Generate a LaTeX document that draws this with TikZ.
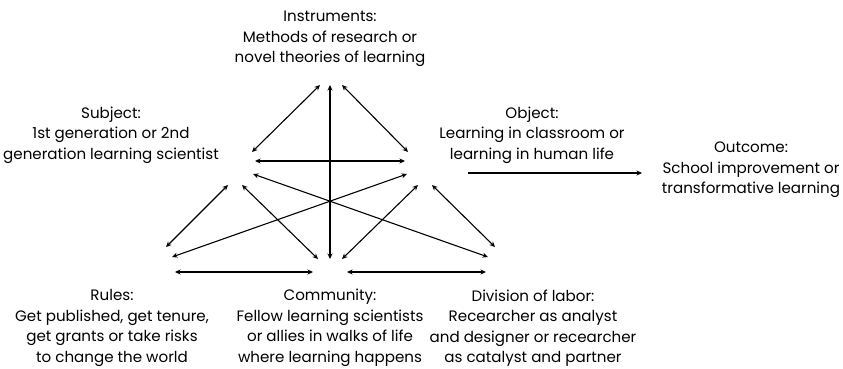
\documentclass[tikz,border=0pt]{standalone}
\usepackage{fontspec}
\setmainfont{Poppins}
\usetikzlibrary{arrows.meta}
\begin{document}
\begin{tikzpicture}[x=1pt,y=-1pt,
  lbl/.style={align=center, font=\fontsize{15.1}{20.5}\selectfont, inner sep=0pt},
  tip/.tip={Stealth[length=5.5pt,width=5pt]},
  link/.style={tip-tip, line width=1.1pt},
  heavy/.style={tip-tip, line width=1.8pt},
  flow/.style={-tip, line width=1.1pt}]
\useasboundingbox (0,0) rectangle (843,368);
\clip (0,0) rectangle (843,368);

% labels
\node[lbl] (instr) at (330,39) {Instruments:\\Methods of research or\\novel theories of learning};
\node[lbl] (subj) at (111,135) {Subject:\\1st generation or 2nd\\generation learning scientist};
\node[lbl] (obj) at (532,135) {Object:\\Learning in classroom or\\learning in human life};
\node[lbl] (outc) at (751,170) {Outcome:\\School improvement or\\transformative learning};
\node[lbl] (rules) at (112,328) {Rules:\\Get published, get tenure,\\get grants or take risks\\to change the world};
\node[lbl] (comm) at (330,328) {Community:\\Fellow learning scientists\\or allies in walks of life\\where learning happens};
\node[lbl] (div) at (533,328) {Division of labor:\\Recearcher as analyst\\and designer or recearcher\\as catalyst and partner};

% end points
\coordinate (iL) at (320,85);
\coordinate (iC) at (330,85);
\coordinate (iR) at (342,85);
\coordinate (sI) at (252,152);
\coordinate (oI) at (408,152);
\coordinate (sO) at (255,161);
\coordinate (oS) at (405,161);
\coordinate (sD) at (253,174);
\coordinate (oR) at (407,174);
\coordinate (sR) at (228,185);
\coordinate (sC) at (242,185);
\coordinate (oC) at (418,185);
\coordinate (oD) at (432,185);
\coordinate (rS) at (166,247);
\coordinate (rO) at (172,257);
\coordinate (cS) at (318,259);
\coordinate (cI) at (330,259);
\coordinate (cO) at (342,259);
\coordinate (dO) at (495,247);
\coordinate (dS) at (488,257);
\coordinate (rC) at (175,272);
\coordinate (cR) at (313,272);
\coordinate (cD) at (347,272);
\coordinate (dC) at (486,272);
\coordinate (oOut) at (468,173);
\coordinate (outO) at (642,173);

% connectors
\draw[link] (iL) -- (sI);
\draw[link] (iR) -- (oI);
\draw[heavy] (iC) -- (cI);
\draw[link] (sO) -- (oS);
\draw[link] (sD) -- (dS);
\draw[link] (oR) -- (rO);
\draw[link] (sR) -- (rS);
\draw[link] (sC) -- (cS);
\draw[link] (oC) -- (cO);
\draw[link] (oD) -- (dO);
\draw[heavy] (rC) -- (cR);
\draw[heavy] (cD) -- (dC);
\draw[flow] (oOut) -- (outO);
\end{tikzpicture}
\end{document}
